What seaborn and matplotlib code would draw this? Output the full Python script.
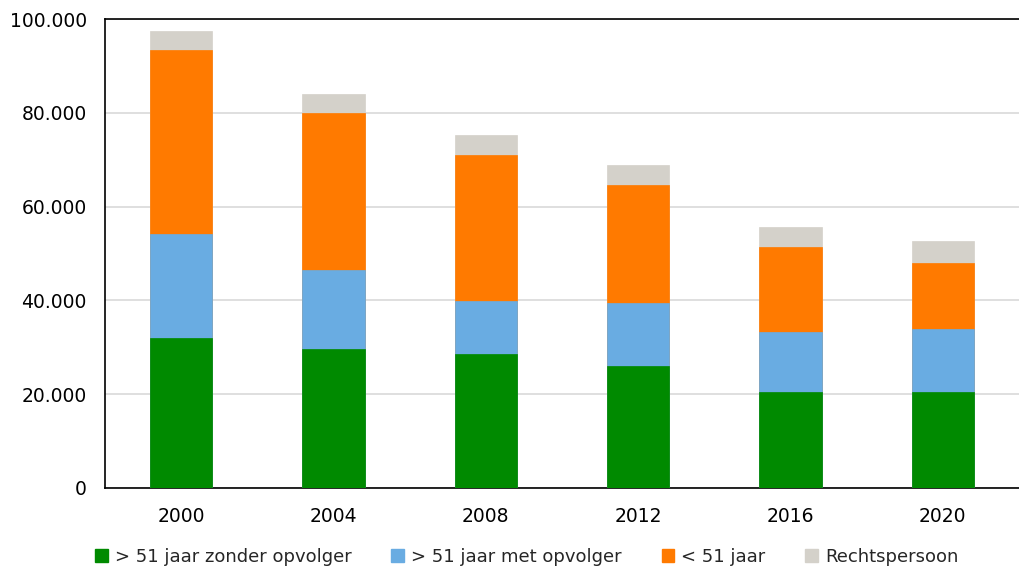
import pandas as pd
import seaborn as sns
import matplotlib.pyplot as plt
from matplotlib.patches import Patch
from matplotlib.ticker import FuncFormatter

years = ["2000", "2004", "2008", "2012", "2016", "2020"]
zonder_opvolger = [31900, 29600, 28600, 26100, 20400, 20400]
met_opvolger = [22200, 16900, 11200, 13300, 12800, 13600]
jonger_51 = [39400, 33500, 31300, 25200, 18300, 14000]
rechtspersoon = [4000, 4000, 4100, 4300, 4200, 4700]

labels = ["> 51 jaar zonder opvolger", "> 51 jaar met opvolger", "< 51 jaar", "Rechtspersoon"]
colors = ["#008a00", "#69ace2", "#ff7a00", "#d4d1ca"]

df = pd.DataFrame({
    "jaar": years,
    labels[0]: zonder_opvolger,
    labels[1]: met_opvolger,
    labels[2]: jonger_51,
    labels[3]: rechtspersoon,
})

# cumulative totals, drawn from the top layer down so each bar covers the rest
cum = df[labels].cumsum(axis=1)

sns.set_style("white")
plt.rcParams['font.family'] = ['DejaVu Sans']

fig = plt.figure(figsize=(10.19, 5.66), dpi=100)
ax = fig.add_axes([0.103, 0.138, 0.897, 0.828])

for lab, col in reversed(list(zip(labels, colors))):
    sns.barplot(x=df["jaar"], y=cum[lab], color=col, saturation=1, width=0.41,
                edgecolor=col, linewidth=0.5, ax=ax, zorder=3)

ax.set_ylim(0, 100000)
ax.set_xlim(-0.5, 5.5)
ax.set_yticks(range(0, 100001, 20000))
ax.yaxis.set_major_formatter(FuncFormatter(lambda v, p: f"{int(v):,}".replace(",", ".")))
ax.yaxis.grid(True, color="#d9d9d9", linewidth=1.2, zorder=0)
ax.set_axisbelow(True)
ax.set_xlabel("")
ax.set_ylabel("")
ax.tick_params(axis="both", labelsize=13.5, colors="black", length=0)
ax.tick_params(axis="x", pad=14)
ax.tick_params(axis="y", pad=13)

for side in ["left", "bottom", "top"]:
    ax.spines[side].set_color("black")
    ax.spines[side].set_linewidth(1.2)
ax.spines["right"].set_visible(False)

handles = [Patch(facecolor=c, edgecolor=c) for c in colors]
fig.legend(handles, labels, loc="lower center", bbox_to_anchor=(0.517, -0.028), ncol=4,
           frameon=False, fontsize=13, handlelength=0.7, handleheight=0.7,
           handletextpad=0.4, columnspacing=2.2)

fig.savefig("out.png", dpi=100)
